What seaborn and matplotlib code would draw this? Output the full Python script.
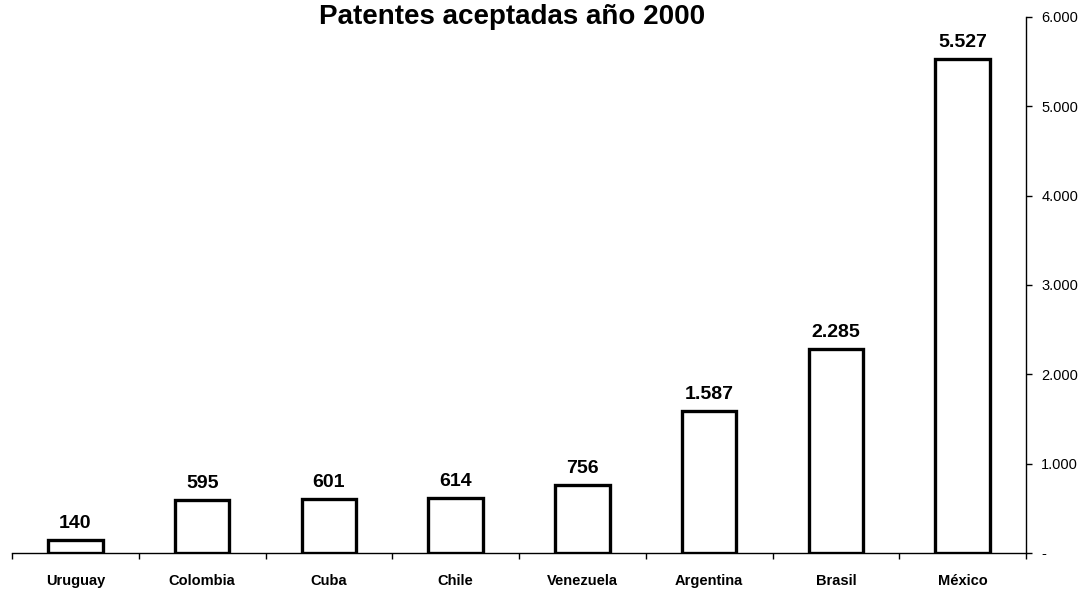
import pandas as pd
import seaborn as sns
import matplotlib.pyplot as plt
from matplotlib.ticker import FuncFormatter, FixedLocator

# Data
paises = ['Uruguay', 'Colombia', 'Cuba', 'Chile', 'Venezuela', 'Argentina', 'Brasil', 'México']
patentes = [140, 595, 601, 614, 756, 1587, 2285, 5527]
etiquetas = ['140', '595', '601', '614', '756', '1.587', '2.285', '5.527']

df = pd.DataFrame({'Pais': paises, 'Patentes': patentes})

sns.set_style('white')
plt.rcParams['font.family'] = ['Liberation Sans', 'DejaVu Sans']
plt.rcParams['text.color'] = 'black'
plt.rcParams['xtick.color'] = 'black'
plt.rcParams['ytick.color'] = 'black'

fig = plt.figure(figsize=(10.84, 5.90), dpi=100)
ax = fig.add_axes([0.0111, 0.0627, 0.9354, 0.9085])

sns.barplot(x='Pais', y='Patentes', data=df, ax=ax, width=0.43,
            color='white', edgecolor='black', linewidth=2.4)

# value labels on top of bars
for i, p in enumerate(ax.patches):
    ax.annotate(etiquetas[i], (p.get_x() + p.get_width() / 2, p.get_height()),
                xytext=(0, 6), textcoords='offset points',
                ha='center', va='bottom', fontsize=14, fontweight='bold')

ax.set_xlim(-0.5, len(paises) - 0.5)
ax.set_ylim(0, 6000)
ax.set_xlabel('')
ax.set_ylabel('')

# y axis on the right
ax.yaxis.tick_right()
ax.set_yticks(range(0, 6001, 1000))
ax.yaxis.set_major_formatter(FuncFormatter(
    lambda v, pos: '-' if v == 0 else f'{int(v):,}'.replace(',', '.')))
ax.tick_params(axis='y', which='major', direction='out', length=4, width=1,
               labelsize=10.5, pad=7, right=True, left=False)

# x ticks at category boundaries
ax.xaxis.set_minor_locator(FixedLocator([i - 0.5 for i in range(len(paises) + 1)]))
ax.tick_params(axis='x', which='minor', direction='out', length=4, width=1,
               bottom=True)
ax.tick_params(axis='x', which='major', length=0, pad=15)
for lbl in ax.get_xticklabels():
    lbl.set_fontweight('bold')
    lbl.set_fontsize(10.5)

for side in ['top', 'left']:
    ax.spines[side].set_visible(False)
for side in ['bottom', 'right']:
    ax.spines[side].set_color('black')
    ax.spines[side].set_linewidth(1)

fig.text(0.472, 0.972, 'Patentes aceptadas año 2000', ha='center', va='center',
         fontsize=20, fontweight='bold')

fig.savefig('out.png', dpi=100, facecolor='white')
